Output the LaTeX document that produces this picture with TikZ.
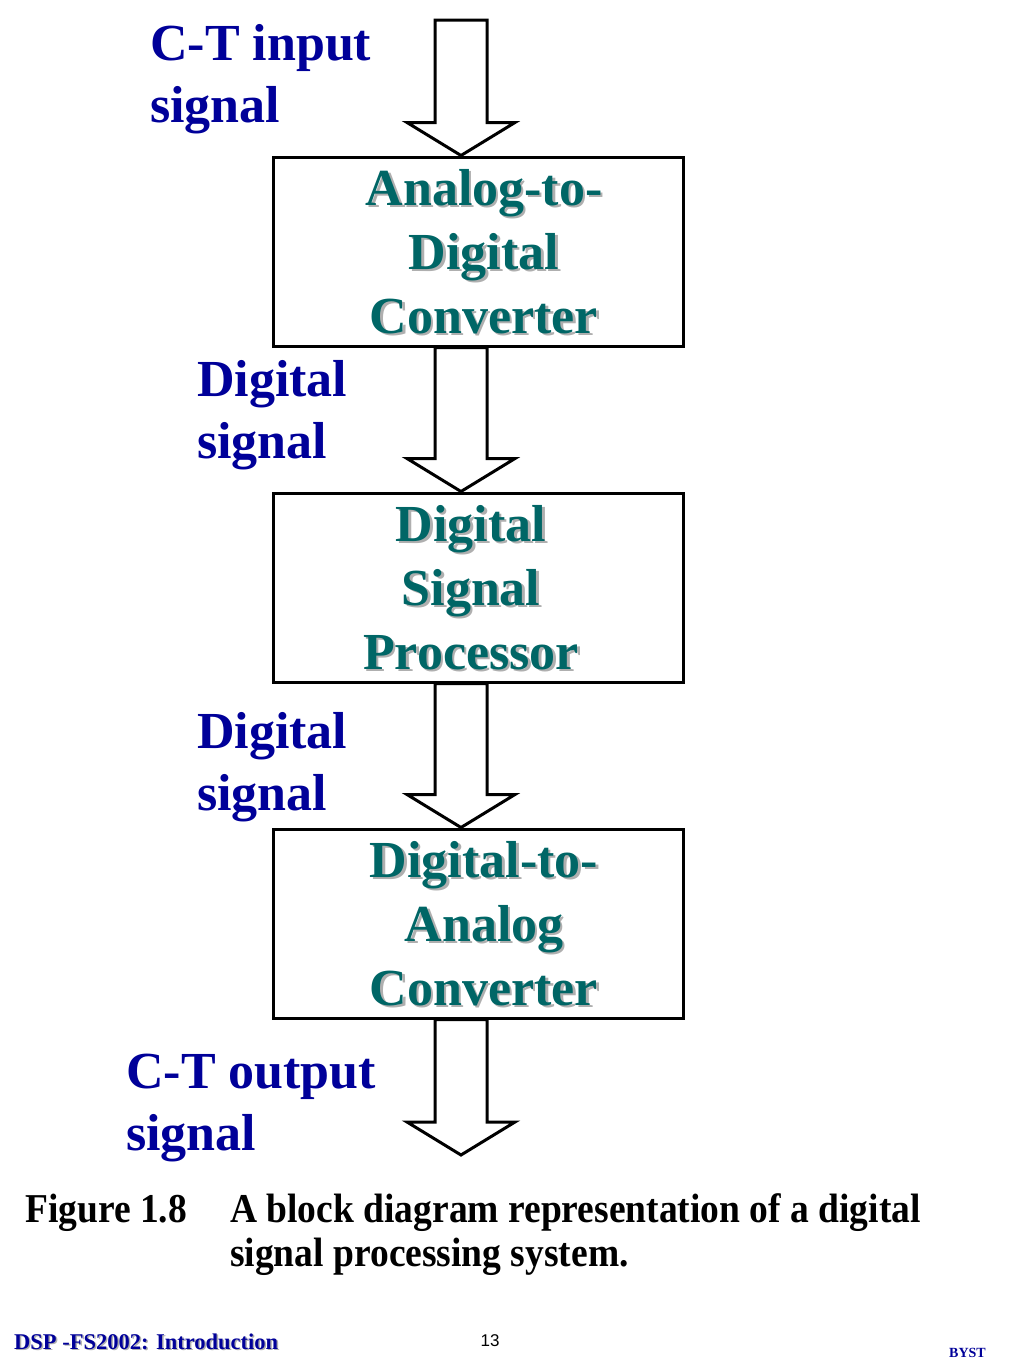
\documentclass[tikz,border=0pt]{standalone}
\usepackage{fontspec}
\setmainfont{Liberation Serif}
\setsansfont{Liberation Sans}
\newfontfamily\captionfont[FakeStretch=0.915]{Liberation Serif}
\usetikzlibrary{arrows,shapes,calc}
\definecolor{slideblue}{RGB}{0,0,153}
\definecolor{boxteal}{RGB}{0,102,102}
\definecolor{shadowgray}{RGB}{175,175,175}
\tikzstyle{block}=[draw,line width=3pt,minimum width=410pt,minimum height=189pt,inner sep=0pt]
\tikzstyle{blocktext}=[align=center,inner sep=0pt,font=\fontsize{52}{64}\selectfont\bfseries,text=boxteal]
\tikzstyle{blockshadow}=[blocktext,text=shadowgray]
\tikzstyle{signal}=[align=left,anchor=base west,inner sep=0pt,font=\fontsize{52}{62}\selectfont\bfseries,text=slideblue]
\tikzstyle{caption}=[align=left,anchor=base west,inner sep=0pt,font=\captionfont\fontsize{41}{44}\selectfont\bfseries]
\tikzstyle{footer}=[anchor=base west,inner sep=0pt,font=\fontsize{22.5}{26}\selectfont\bfseries,text=slideblue]
\tikzstyle{fatarrow}=[draw,line width=3pt,fill=white,line join=miter]
% hollow block arrow pointing down, from #1 to the tip #2
\newcommand{\bigdownarrow}[2]{%
  \path[fatarrow] ($#1+(-26,0)$) -- ($#2+(-26,-33)$) -- ($#2+(-54,-33)$) -- #2
    -- ($#2+(54,-33)$) -- ($#2+(26,-33)$) -- ($#1+(26,0)$) -- cycle;}

\begin{document}
\begin{tikzpicture}[x=1pt,y=-1pt]
    \useasboundingbox (0,0) rectangle (1024,1365);
    % The three blocks
    \foreach \pos/\name in {{(478,251.5)/adc}, {(478,587.5)/dsp}, {(478,923.5)/dac}}
        \node[block] (\name) at \pos {};
    % Block texts, grey shadow underneath
    \foreach \name/\dx/\txt in {adc/6/{Analog-to-\\Digital\\Converter}, dsp/-7/{Digital\\Signal\\Processor}, dac/6/{Digital-to-\\Analog\\Converter}} {
        \node[blockshadow] (\name shadow) at ([xshift=\dx pt+2.5pt,yshift=-2.5pt]\name.center) {\txt};
        \node[blocktext] (\name text) at ([xshift=\dx pt]\name.center) {\txt};
    }
    % Arrows between the blocks
    \coordinate (in) at (461,20);
    \coordinate (out) at (461,1155);
    \bigdownarrow{(in)}{(in |- adc.north)}
    \bigdownarrow{(in |- adc.south)}{(in |- dsp.north)}
    \bigdownarrow{(in |- dsp.south)}{(in |- dac.north)}
    \bigdownarrow{(in |- dac.south)}{(out)}
    % Signal labels (base is the last line)
    \node[signal] (input) at (150,122) {C-T input\\signal};
    \node[signal] (digital1) at (197,458) {Digital\\signal};
    \node[signal] (digital2) at (197,810) {Digital\\signal};
    \node[signal] (output) at (126,1150) {C-T output\\signal};
    % Caption
    \node[caption] (fignum) at (25,1222) {Figure 1.8};
    \node[caption] (figtext) at (230,1266) {A block diagram representation of a digital\\signal processing system.};
    % Footer
    \node[footer,text=shadowgray] (footshadow) at (15.5,1350.5) {DSP -FS2002: Introduction};
    \node[footer] (foottext) at (14,1349) {DSP -FS2002: Introduction};
    \node[anchor=base,inner sep=0pt,font=\sffamily\fontsize{17}{20}\selectfont] (pagenum) at (490,1346) {13};
    \node[footer,anchor=base east,font=\fontsize{14}{16}\selectfont\bfseries] (byst) at (986,1357) {BYST};
\end{tikzpicture}
\end{document}
